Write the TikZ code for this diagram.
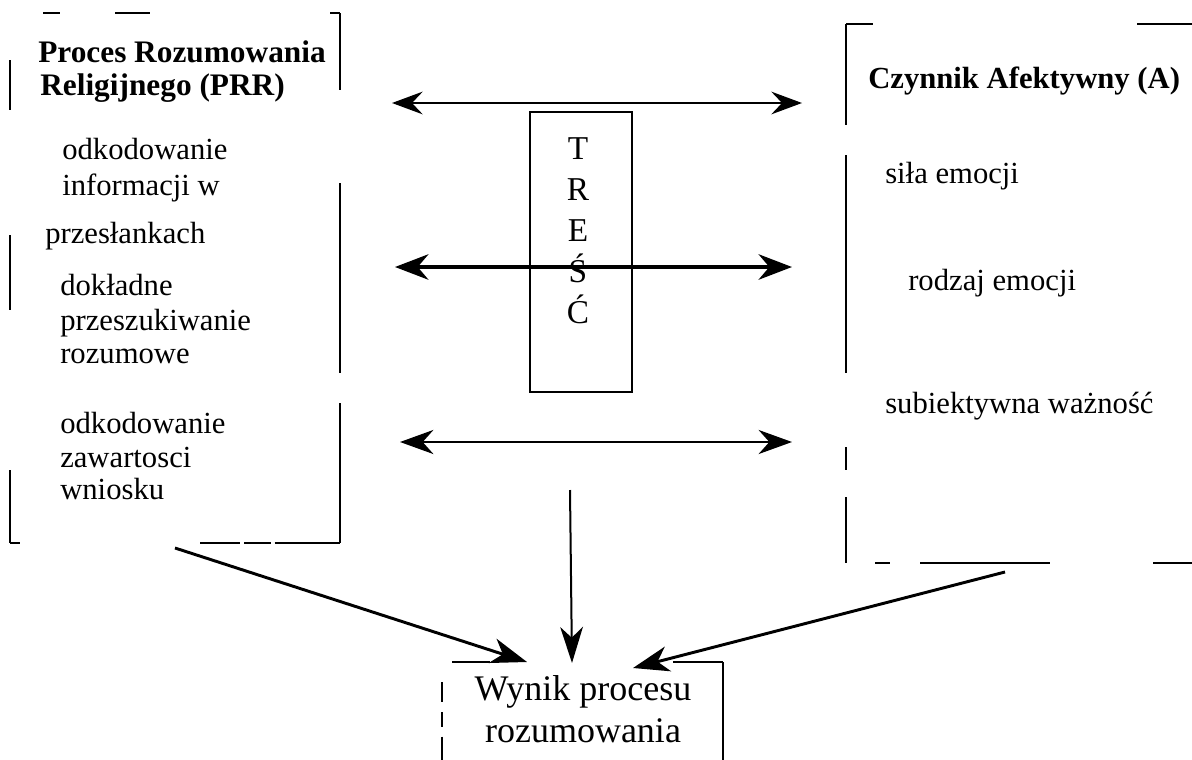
\documentclass[tikz,border=0pt]{standalone}
\usepackage{fontspec}
\setmainfont{Liberation Serif}
\usetikzlibrary{arrows.meta, positioning}
\tikzset{%
>={Stealth[length=23pt,width=17pt,inset=8pt]},
  % Specifications for style of nodes:
            panel/.style = {rectangle, inner sep=0pt, outer sep=0pt},
            scan/.style = {draw=black, line width=0.8pt},
            tresc/.style = {rectangle, draw=black, line width=1.5pt, inner sep=0pt},
            txt/.style = {anchor=base west, inner sep=0pt,
                            font=\fontsize{23}{25.5}\selectfont},
            head/.style = {txt, font=\fontsize{23.5}{25.5}\selectfont\bfseries},
            wyn/.style = {anchor=base, inner sep=0pt,
                            font=\fontsize{27}{31.5}\selectfont},
            link/.style = {->, line width=2pt}
}
\begin{document}
\begin{tikzpicture}[x=0.75pt, y=-0.75pt]
                \useasboundingbox (0,0) rectangle (1192,760);
                \clip (0,0) rectangle (1192,760);

                % left box
                \node[panel, minimum width=247.5pt, minimum height=397.5pt] (prr) at (175,278) {};
                \draw[scan, dash pattern=on 0pt off 24.75pt on 12.75pt off 41.25pt on 26.25pt off 135pt on 7.5pt]
                    (prr.north west) -- (prr.north east);
                \draw[scan, dash pattern=on 57.75pt off 69.75pt on 142.5pt off 22.5pt on 105pt]
                    (prr.north east) -- (prr.south east);
                \draw[scan, dash pattern=on 0pt off 35.25pt on 37.5pt off 93.75pt on 56.25pt off 120pt on 54.75pt]
                    (prr.north west) -- (prr.south west);
                \draw[scan, dash pattern=on 7.5pt off 135pt on 30pt off 3pt on 20pt off 3pt on 60pt]
                    (prr.south west) -- (prr.south east);
                \node[head] (h1) at (38,62) {Proces Rozumowania};
                \node[head] (h2) at (40,95) {Religijnego (PRR)};
                \node[txt] (p1) at (62,159) {odkodowanie};
                \node[txt] (p2) at (62,195) {informacji w};
                \node[txt] (p3) at (45,243) {przesłankach};
                \node[txt] (p4) at (60,295) {dokładne};
                \node[txt] (p5) at (60,330) {przeszukiwanie};
                \node[txt] (p6) at (60,363) {rozumowe};
                \node[txt] (p7) at (60,433) {odkodowanie};
                \node[txt] (p8) at (60,467) {zawartosci};
                \node[txt] (p9) at (60,499) {wniosku};

                % right box
                \node[panel, minimum width=288pt, minimum height=404.25pt] (afekt) at (1038,293.5) {};
                \draw[scan, dash pattern=on 20.25pt off 198pt on 75pt]
                    (afekt.north west) -- (afekt.north east);
                \draw[scan, dash pattern=on 75.75pt off 22.5pt on 163.5pt off 55.5pt on 17.25pt off 20.25pt on 49.5pt]
                    (afekt.north west) -- (afekt.south west);
                \draw[scan, dash pattern=on 0pt off 21.75pt on 11.25pt off 22.5pt on 97.5pt off 77.25pt on 45pt]
                    (afekt.south west) -- (afekt.south east);
                \node[head, font=\fontsize{23}{25.5}\selectfont\bfseries] (h3) at (868,88) {Czynnik Afektywny (A)};
                \node[txt] (a1) at (885,183) {siła emocji};
                \node[txt] (a2) at (908,290) {rodzaj emocji};
                \node[txt] (a3) at (885,413) {subiektywna ważność};

                % result box
                \node[panel, minimum width=210.75pt, minimum height=103.5pt] (wynik) at (582.5,731) {};
                \draw[scan, dash pattern=on 0pt off 7.5pt on 28.5pt off 137.25pt on 37.5pt]
                    (wynik.north west) -- (wynik.north east);
                \draw[scan, dash pattern=on 0pt off 15pt on 15pt off 7.5pt on 11pt off 7.5pt on 30pt]
                    (wynik.north west) -- (wynik.south west);
                \draw[scan] (wynik.north east) -- (wynik.south east);
                \node[wyn] (w1) at (583,700) {Wynik procesu};
                \node[wyn] (w2) at (583,742) {rozumowania};

                % content box
                \node[tresc, minimum width=76.5pt, minimum height=210pt] (tresc) at (581,252) {};
                \node[inner sep=0pt, align=center, font=\fontsize{25}{30.75}\selectfont]
                    (tl) at (578,231) {T\\R\\E\\Ś\\Ć};

                % double arrows
                \coordinate (r1l) at (392,103);
                \coordinate (r1r) at (802,103);
                \coordinate (r2l) at (395,267);
                \coordinate (r2r) at (792,267);
                \coordinate (r3l) at (400,442);
                \coordinate (r3r) at (792,442);
                \draw[<->, line width=1.5pt] (r1l) -- (r1r);
                \draw[{Stealth[length=25pt,width=19pt,inset=8pt]}-{Stealth[length=25pt,width=19pt,inset=8pt]}, line width=3.2pt] (r2l) -- (r2r);
                \draw[{Stealth[length=25pt,width=18pt,inset=8pt]}-{Stealth[length=25pt,width=18pt,inset=8pt]}, line width=2.2pt] (r3l) -- (r3r);

                % arrows to the result
                \coordinate (d0) at (570,490);
                \coordinate (d1) at (572,663);
                \coordinate (e0) at (175,548);
                \coordinate (e1) at (527,662);
                \coordinate (f0) at (1005,572);
                \coordinate (f1) at (633,668);
                \draw[link, line width=1.5pt, -{Stealth[length=27pt,width=17pt,inset=8pt]}] (d0) -- (d1);
                \draw[link, line width=2.2pt, -{Stealth[length=27pt,width=19pt,inset=8pt]}] (e0) -- (e1);
                \draw[link, line width=2.2pt, -{Stealth[length=27pt,width=19pt,inset=8pt]}] (f0) -- (f1);

            \end{tikzpicture}
\end{document}
